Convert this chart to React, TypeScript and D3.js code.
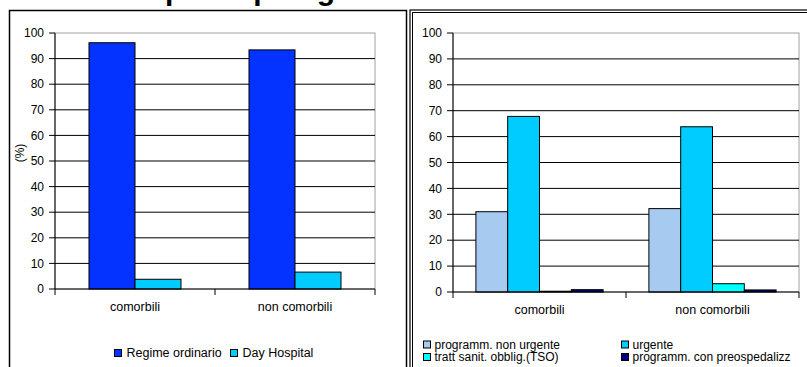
import React from "react";
import * as d3 from "d3";

const categories = ["comorbili", "non comorbili"];
const yTicks = [0, 10, 20, 30, 40, 50, 60, 70, 80, 90, 100];

const leftSeries = ["Regime ordinario", "Day Hospital"];
const regimeOrdinario = [96.2, 93.4];
const dayHospital = [3.8, 6.6];
const leftColors = ["#0433FF", "#00CCFF"];

const rightSeries = [
  "programm. non urgente",
  "urgente",
  "tratt sanit. obblig.(TSO)",
  "programm. con preospedalizz",
];
const programmNonUrgente = [31.0, 32.2];
const urgente = [67.8, 63.8];
const tso = [0.3, 3.2];
const preosped = [0.9, 0.8];
const rightColors = ["#A6CAF0", "#00CCFF", "#00FFFF", "#000080"];

const titleText = "Ricoveri: tipo e tipologia";

const FONT = "'Liberation Sans', Arial, sans-serif";

type PanelProps = {
  x0: number;
  x1: number;
  yTop: number;
  yBottom: number;
  series: string[];
  values: number[][];
  colors: string[];
  outerPad: number;
};

function Panel({ x0, x1, yTop, yBottom, series, values, colors, outerPad }: PanelProps) {
  const xCat = d3.scaleBand<string>().domain(categories).range([x0, x1]).padding(0);
  const xSer = d3
    .scaleBand<string>()
    .domain(series)
    .range([0, xCat.bandwidth()])
    .paddingInner(0)
    .paddingOuter(outerPad);
  const y = d3.scaleLinear().domain([0, 100]).range([yBottom, yTop]);
  const boundaries = [x0, ...categories.map((c) => (xCat(c) as number) + xCat.bandwidth())];
  return (
    <g>
      <rect x={x0} y={yTop} width={x1 - x0} height={yBottom - yTop} fill="white" stroke="#a0a0a0" strokeWidth={1} />
      {yTicks
        .filter((t) => t > 0 && t < 100)
        .map((t) => (
          <line key={t} x1={x0} x2={x1} y1={y(t)} y2={y(t)} stroke="#000" strokeWidth={1} />
        ))}
      {categories.map((c, ci) =>
        series.map((s, si) => {
          const v = values[si][ci];
          const bx = (xCat(c) as number) + (xSer(s) as number);
          return (
            <rect
              key={c + s}
              x={bx}
              y={y(v)}
              width={xSer.bandwidth()}
              height={y(0) - y(v)}
              fill={colors[si]}
              stroke="#000"
              strokeWidth={1}
            />
          );
        })
      )}
      <line x1={x0} x2={x0} y1={yTop} y2={yBottom} stroke="#000" strokeWidth={1} />
      <line x1={x0} x2={x1} y1={yBottom} y2={yBottom} stroke="#000" strokeWidth={1} />
      {yTicks.map((t) => (
        <g key={t}>
          <line x1={x0 - 6} x2={x0} y1={y(t)} y2={y(t)} stroke="#000" strokeWidth={1} />
          <text x={x0 - 11} y={y(t)} dy="0.35em" textAnchor="end" fontSize={12} fontFamily={FONT} fill="#000">
            {t}
          </text>
        </g>
      ))}
      {boundaries.map((b, i) => (
        <line key={i} x1={b} x2={b} y1={yBottom} y2={yBottom + 6} stroke="#000" strokeWidth={1} />
      ))}
      {categories.map((c) => (
        <text
          key={c}
          x={(xCat(c) as number) + xCat.bandwidth() / 2}
          y={yBottom + 22}
          textAnchor="middle"
          fontSize={12.5}
          fontFamily={FONT}
          fill="#000"
        >
          {c}
        </text>
      ))}
    </g>
  );
}

export default function App() {
  return (
    <svg
      width={807}
      height={367}
      style={{ position: "absolute", left: 0, top: 0, background: "white" }}
    >
      <text x={10} y={0} fontSize={30} fontWeight="bold" fontFamily={FONT} fill="#000">
        {titleText}
      </text>
      {/* left panel frame */}
      <rect x={9.5} y={10.5} width={397} height={370} fill="white" stroke="#000" strokeWidth={1.5} />
      {/* right panel frame (double) */}
      <rect x={410} y={10} width={420} height={370} fill="white" stroke="#000" strokeWidth={1.2} />
      <rect x={412.5} y={12.5} width={420} height={370} fill="none" stroke="#000" strokeWidth={1} />

      <Panel
        x0={55}
        x1={375}
        yTop={33}
        yBottom={289}
        series={leftSeries}
        values={[regimeOrdinario, dayHospital]}
        colors={leftColors}
        outerPad={0.739}
      />
      <text
        transform="translate(24,153) rotate(-90)"
        textAnchor="middle"
        fontSize={12}
        fontFamily={FONT}
        fill="#000"
      >
        (%)
      </text>
      {/* left legend */}
      {leftSeries.map((s, i) => {
        const lx = [114.5, 230.5][i];
        return (
          <g key={s}>
            <rect x={lx} y={349.5} width={7} height={7} fill={leftColors[i]} stroke="#000" strokeWidth={1} />
            <text x={lx + 12} y={357} fontSize={12.5} fontFamily={FONT} fill="#000">
              {s}
            </text>
          </g>
        );
      })}

      <Panel
        x0={453}
        x1={799}
        yTop={33}
        yBottom={292}
        series={rightSeries}
        values={[programmNonUrgente, urgente, tso, preosped]}
        colors={rightColors}
        outerPad={0.72}
      />
      {/* right legend */}
      {rightSeries.map((s, i) => {
        const lx = [423.5, 621.5][i % 2];
        const ly = [341, 353.5][Math.floor(i / 2)];
        return (
          <g key={s}>
            <rect x={lx} y={ly} width={7} height={7} fill={rightColors[i]} stroke="#000" strokeWidth={1} />
            <text x={lx + 11} y={ly + 7.5} fontSize={12} fontFamily={FONT} fill="#000">
              {s}
            </text>
          </g>
        );
      })}
    </svg>
  );
}
